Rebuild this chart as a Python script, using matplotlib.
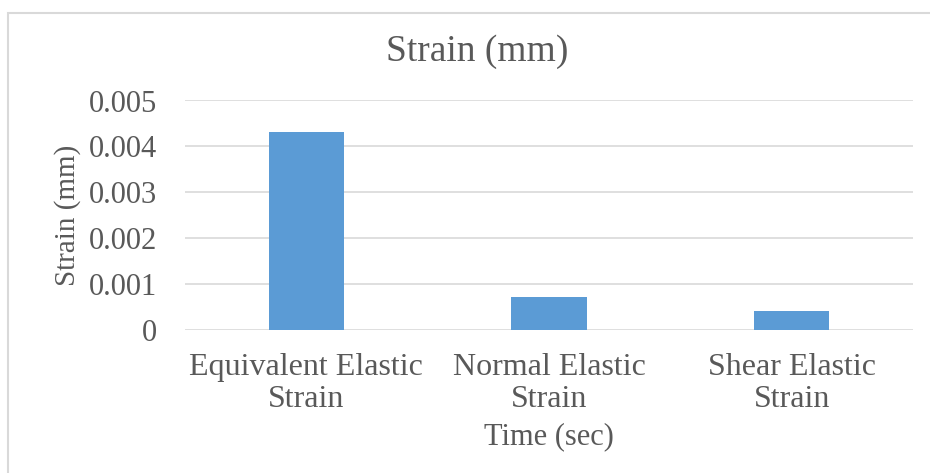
import numpy as np
import matplotlib.pyplot as plt
from matplotlib.patches import Rectangle

categories = ["Equivalent Elastic\nStrain", "Normal Elastic\nStrain", "Shear Elastic\nStrain"]
strain = [0.00431, 0.000718, 0.00042]
yticks = [0, 0.001, 0.002, 0.003, 0.004, 0.005]
ytick_labels = ["0", "0.001", "0.002", "0.003", "0.004", "0.005"]

plt.rcParams['font.family'] = ['Liberation Serif', 'DejaVu Serif']
text_col = '#595959'

fig = plt.figure(figsize=(9.3, 4.73), dpi=100)
ax = fig.add_axes([185/930, 1 - 330.3/473, 728/930, (330.3 - 100.5)/473])

x = np.arange(len(categories))
ax.bar(x, strain, width=0.31, color='#5b9bd5', zorder=3)

ax.set_xlim(-0.5, 2.5)
ax.set_ylim(0, 0.005)
ax.set_yticks(yticks)
ax.set_yticklabels(ytick_labels)
ax.set_xticks(x)
ax.set_xticklabels(categories, linespacing=1.17, fontsize=23)
ax.tick_params(axis='both', length=0, colors=text_col)
ax.tick_params(axis='y', pad=20, labelsize=22)
ax.tick_params(axis='x', pad=16)
ax.grid(axis='y', color='#d9d9d9', linewidth=1.2, zorder=0)
for s in ax.spines.values():
    s.set_visible(False)

ax.set_ylabel("Strain (mm)", fontsize=21, color=text_col, labelpad=6)
ax.set_xlabel("Time (sec)", fontsize=22, color=text_col, labelpad=6)
fig.text(477/930, 1 - 52/473, "Strain (mm)", ha='center', va='center',
         fontsize=27, color=text_col)

fig.patches.append(Rectangle((8/930, -0.05), 2, 1 - 13/473 + 0.05,
                             transform=fig.transFigure, fill=False,
                             edgecolor='#d9d9d9', linewidth=1.5))

plt.savefig('out.png', dpi=100)
